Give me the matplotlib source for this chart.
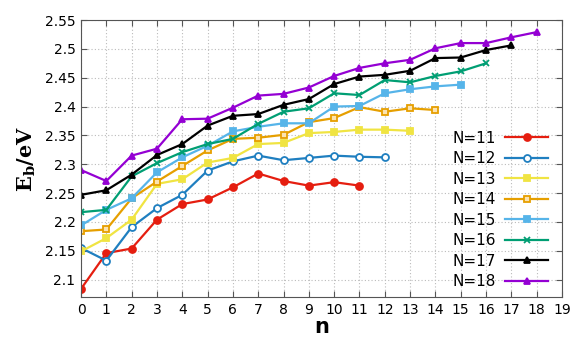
import matplotlib
matplotlib.use("Agg")
import matplotlib.pyplot as plt
import numpy as np

plt.rcParams["mathtext.fontset"] = "dejavuserif"

labels = ["N=11", "N=12", "N=13", "N=14", "N=15", "N=16", "N=17", "N=18"]

e11 = [2.084, 2.146, 2.154, 2.204, 2.231, 2.239, 2.260, 2.284, 2.271, 2.263, 2.269, 2.263]
e12 = [2.155, 2.133, 2.191, 2.224, 2.247, 2.289, 2.305, 2.315, 2.307, 2.311, 2.315, 2.313, 2.312]
e13 = [2.149, 2.172, 2.204, 2.266, 2.274, 2.303, 2.311, 2.335, 2.337, 2.354, 2.356, 2.360, 2.360, 2.358]
e14 = [2.184, 2.187, 2.241, 2.270, 2.297, 2.324, 2.344, 2.346, 2.351, 2.373, 2.380, 2.399, 2.391, 2.397, 2.394]
e15 = [2.194, 2.221, 2.241, 2.286, 2.312, 2.332, 2.357, 2.365, 2.371, 2.371, 2.400, 2.401, 2.423, 2.430, 2.435, 2.438]
e16 = [2.217, 2.221, 2.279, 2.302, 2.321, 2.335, 2.344, 2.370, 2.391, 2.397, 2.423, 2.420, 2.446, 2.442, 2.453, 2.461, 2.475]
e17 = [2.247, 2.255, 2.282, 2.316, 2.335, 2.367, 2.384, 2.387, 2.403, 2.413, 2.439, 2.452, 2.455, 2.462, 2.484, 2.485, 2.498, 2.506]
e18 = [2.290, 2.271, 2.315, 2.327, 2.378, 2.379, 2.398, 2.419, 2.422, 2.433, 2.453, 2.467, 2.475, 2.481, 2.501, 2.510, 2.510, 2.520, 2.529]

series = [e11, e12, e13, e14, e15, e16, e17, e18]
colors = ["#e51e10", "#1f7fc0", "#f0e442", "#e69f00", "#56b4e9", "#009e73", "#000000", "#9400d3"]
markers = ["o", "o", "s", "s", "s", "x", "^", "^"]
faces = ["#e51e10", "#ffffff", "#f0e442", "#fbe3b0", "#56b4e9", "#009e73", "#000000", "#9400d3"]

xticks = list(range(0, 20))
yticks = [2.1, 2.15, 2.2, 2.25, 2.3, 2.35, 2.4, 2.45, 2.5, 2.55]
ytick_labels = ["2.1", "2.15", "2.2", "2.25", "2.3", "2.35", "2.4", "2.45", "2.5", "2.55"]

fig = plt.figure(figsize=(5.72, 3.43), dpi=100)
ax = fig.add_axes([81/572, 1-297/343, (562-81)/572, (297-20)/343])

for vals, lab, c, m, fc in zip(series, labels, colors, markers, faces):
    n = np.arange(len(vals))
    ax.plot(n, vals, color=c, marker=m, markersize=5, markerfacecolor=fc,
            markeredgecolor=c, markeredgewidth=1.3, linewidth=1.6, label=lab)

ax.set_xlim(0, 19)
ax.set_ylim(2.07, 2.55)
ax.set_xticks(xticks)
ax.set_yticks(yticks)
ax.set_yticklabels(ytick_labels)
ax.tick_params(direction="in", top=True, right=True, length=4, labelsize=10,
               color="#555555", pad=4)
ax.grid(True, linestyle=(0, (1, 2)), color="#bbbbbb", linewidth=0.8)
for s in ax.spines.values():
    s.set_color("#555555")

ax.set_xlabel("n", fontsize=15, fontweight="bold", labelpad=0)
ax.set_ylabel(r"$\mathbf{E_b/eV}$", fontsize=15, labelpad=5)

leg = ax.legend(loc="lower right", bbox_to_anchor=(0.99, -0.005), frameon=False,
                markerfirst=False, fontsize=11, handlelength=2.8, numpoints=1,
                labelspacing=0.36, handletextpad=0.6, borderaxespad=0.2)

fig.savefig("out.png", dpi=100)
